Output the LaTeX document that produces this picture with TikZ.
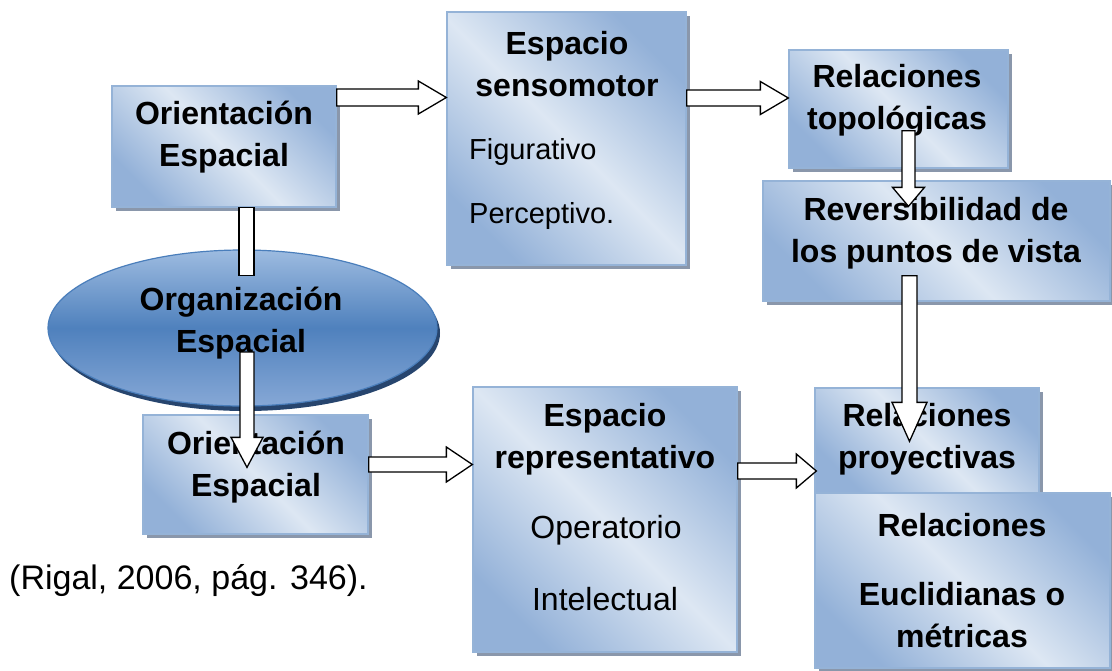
\documentclass[tikz,border=0pt]{standalone}
\usepackage{fontspec}
\setmainfont{Liberation Sans}
\usetikzlibrary{calc,shadows,shapes.geometric}

\definecolor{bdark}{HTML}{93B1D8}
\definecolor{blight}{HTML}{DDE7F3}
\definecolor{bedge}{HTML}{95B3D7}
\definecolor{shad}{HTML}{8A97AB}
\definecolor{edark}{HTML}{4F81BD}
\definecolor{elight}{HTML}{9DBBE0}
\definecolor{elight2}{HTML}{86A8D6}
\definecolor{eedge}{HTML}{4A7EBB}
\definecolor{eshad}{HTML}{27456E}

\tikzset{
  box/.style={draw=bedge, line width=1.3pt, left color=bdark, right color=bdark,
    middle color=blight, shading angle=-45, inner sep=0pt,
    drop shadow={shadow xshift=4pt, shadow yshift=-4pt, fill=shad, opacity=1}},
  oval/.style={ellipse, draw=eedge, line width=1.2pt, top color=elight,
    bottom color=elight2, middle color=edark, inner sep=0pt,
    drop shadow={shadow xshift=3pt, shadow yshift=-5pt, fill=eshad, opacity=1}},
  ttl/.style={font=\fontsize{32}{42}\selectfont\bfseries, align=center, inner sep=0pt},
  itm/.style={font=\fontsize{29}{35}\selectfont, inner sep=0pt},
  itmb/.style={font=\fontsize{32}{38}\selectfont, inner sep=0pt},
  barrow/.style={draw=black, fill=white, line width=1.3pt, line join=miter}
}

\newcommand\myhblock[5]{%
  \draw[barrow] let \p1=#1, \p2=#2 in
  (\x1,\y1+#3) -- (\x2-#5,\y1+#3) -- (\x2-#5,\y1+#4) -- (\x2,\y1)
  -- (\x2-#5,\y1-#4) -- (\x2-#5,\y1-#3) -- (\x1,\y1-#3) -- cycle;}
\newcommand\myvblock[5]{%
  \draw[barrow] let \p1=#1, \p2=#2 in
  (\x1-#3,\y1) -- (\x1-#3,\y2+#5) -- (\x1-#4,\y2+#5) -- (\x1,\y2)
  -- (\x1+#4,\y2+#5) -- (\x1+#3,\y2+#5) -- (\x1+#3,\y1) -- cycle;}
\newcommand\myvbar[3]{%
  \draw[barrow] let \p1=#1, \p2=#2 in (\x1-#3,\y1) rectangle (\x1+#3,\y2);}

\begin{document}
\begin{tikzpicture}[x=1pt, y=-1pt]
\useasboundingbox (0,0) rectangle (1112,670);

% boxes
\node[box, minimum width=224pt, minimum height=121pt] (o1) at (224,146.5) {};
\node[box, minimum width=239pt, minimum height=253pt] (es) at (566.5,138.5) {};
\node[box, minimum width=219pt, minimum height=118pt] (topo) at (898.5,109) {};
\node[box, minimum width=347pt, minimum height=120pt] (rev) at (936.5,241) {};
\node[oval, minimum width=389pt, minimum height=156pt] (ell) at (242.5,328) {};
\node[box, minimum width=225pt, minimum height=119pt] (o2) at (255.5,474.5) {};
\node[box, minimum width=264pt, minimum height=265pt] (rep) at (605,519.5) {};
\node[box, minimum width=224pt, minimum height=107pt] (proy) at (927,441.5) {};
\node[box, minimum width=295pt, minimum height=175pt] (euc) at (962.5,580.5) {};

% texts
\node[ttl] (o1t) at (224,137) {Orientación\\Espacial};
\node[ttl] (est) at (567,64) {Espacio\\sensomotor};
\node[itm, anchor=west] (fig) at (469,152) {Figurativo};
\node[itm, anchor=west] (per) at (469,216) {Perceptivo.};
\node[ttl] (topot) at (897,100) {Relaciones\\topológicas};
\node[ttl] (revt) at (936,233.5) {Reversibilidad de\\los puntos de vista};
\node[ttl] (ellt) at (241,323) {Organización\\Espacial};
\node[ttl] (o2t) at (256,467.5) {Orientación\\Espacial};
\node[ttl] (rept) at (605,439.5) {Espacio\\representativo};
\node[itmb] (ope) at (606,530) {Operatorio};
\node[itmb] (int) at (605,599) {Intelectual};
\node[ttl] (proyt) at (927,439.5) {Relaciones\\proyectivas};
\node[ttl] (euct1) at (962,525) {Relaciones};
\node[ttl] (euct2) at (962,615.5) {Euclidianas o\\métricas};
\node[font=\fontsize{34}{40}\selectfont, inner sep=0pt, anchor=west] (cite) at (9,581) {(Rigal, 2006, pág. 346).};

% block arrows
\myhblock{([yshift=49pt]o1.east)}{(es.west)}{8.5pt}{16.5pt}{28pt}
\myhblock{([yshift=40.5pt]es.east)}{(topo.west)}{8pt}{16.5pt}{28pt}
\myhblock{([yshift=10pt]o2.east)}{(rep.west)}{7.5pt}{17.5pt}{26pt}
\myhblock{([yshift=48.5pt]rep.east)}{([xshift=2pt]proy.west)}{8pt}{17pt}{20pt}
\myvblock{([xshift=10pt,yshift=38pt]topo.south)}{([yshift=-26pt]rev.north)}{6.5pt}{16pt}{19pt}
\myvblock{([xshift=-27pt,yshift=26pt]rev.south)}{([yshift=-54pt]proy.north)}{7.5pt}{17.5pt}{39pt}
\myvbar{([xshift=22.5pt]o1.south)}{([yshift=-26pt]ell.north)}{7.5pt}
\myvblock{([xshift=4.5pt,yshift=-24pt]ell.center)}{([yshift=-53pt]o2.north)}{7pt}{16pt}{30pt}
\end{tikzpicture}
\end{document}
